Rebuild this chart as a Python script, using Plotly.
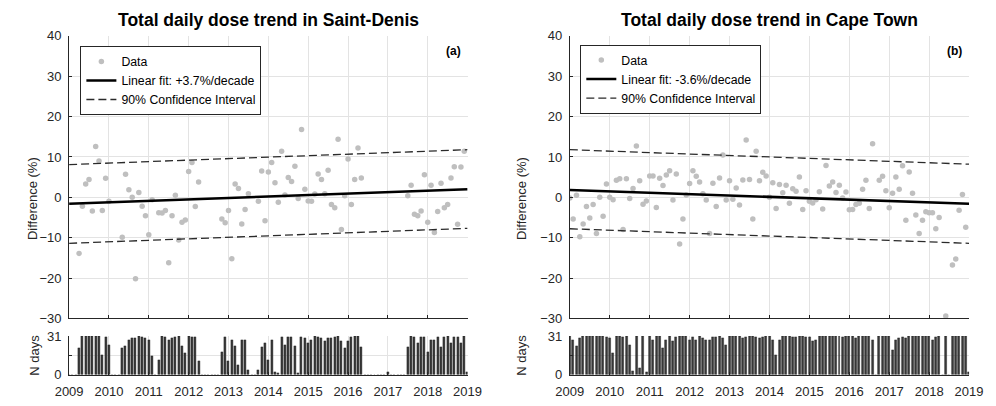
import plotly.graph_objects as go

# ---------------- data ----------------
start_year = 2009
years = list(range(2009, 2020))
n_months = 120

# Saint-Denis monthly differences (%), months 0..119 from Jan 2009 (None = no data)
sd_diff = ([None, None, None,
            -13.9, -2.2, 3.3, 4.4, -3.4, 12.6, 9.0, -3.3, 4.7, -1.0,
            None, None, None,
            -9.9, 5.7, 1.9, 0.0, -20.2, 1.2, -2.2, -4.6, -9.3, -0.6,
            None,
            -3.8, -3.9, -3.3, -16.2, -4.6, 0.5, -10.6, -6.2, -5.6, 6.4, 8.6, -2.3, 3.8,
            None, None, None, None, None, None,
            -5.4, -6.3, -3.3, -15.2, 3.3, 2.2, -6.6, -3.0, 0.9,
            None, None,
            -1.0, 6.5, -5.8, 6.3, 8.6, 3.6, -1.2, 11.4, 0.6, 4.9, 3.9, 7.7, -0.3, 16.8,
            2.0, -0.9, -1.0, 0.8, 5.8, 4.4, 0.9, 6.7, -1.8, -2.6, 14.4, -8.0, 0.4, 9.5,
            -1.8, 4.4, 12.2, 4.8]
           + [None] * 13
           + [0.4, 3.0, -4.2, -4.6, -3.4, 5.6, -6.2, 3.0, -8.7, -3.5, 3.5, -2.6, -1.8,
              4.8, 7.6, -6.7, 7.5, 11.4])

# Saint-Denis number of days per month, months 0..120
sd_days = [0, 0, 0,
           21, 31, 31, 31, 31, 31, 31, 16, 30, 24,
           0, 0, 0,
           21, 23, 28, 29, 29, 31, 30, 29, 28, 15,
           0,
           12, 31, 30, 28, 29, 30, 31, 23, 17, 31, 30, 30, 11,
           0, 0, 0, 0, 0, 0,
           18, 30, 11, 28, 23, 8, 28, 28, 4,
           0, 0,
           4, 22, 25, 12, 28, 2, 1, 30, 24, 30, 30, 23, 1, 30, 29, 25, 28, 31, 30, 29,
           27, 29, 29, 30, 31, 27, 21, 27, 30, 31, 31, 22,
           0, 0, 0, 0, 0, 0, 0,
           2,
           0, 0, 0, 0, 0,
           22, 31, 30, 25, 30, 30, 18, 28, 28, 30, 22, 30, 31, 25, 30, 30, 25, 31, 2]

# Cape Town monthly differences (%), months 0..119
ct_diff = [-0.2, -5.4, 0.5, -9.8, -6.6, -2.3, -5.1, -1.8, -9.0, 0.0, -4.7, 3.3,
           0.0, -0.6, 4.2, 4.6, -8.0, 4.6, -0.3, 2.2, 12.7, 4.1, -1.7, -0.9,
           5.3, 5.3, -2.5, 4.7, 2.9, 5.5, 6.6, -0.7, 5.8, -11.6, -5.4, 0.6,
           3.4, 6.6, 5.2, 3.8, 0.9, -0.7, -9.0, 3.5, -2.3, 4.8, 10.5, -0.7,
           4.1, -0.5, 2.3, -1.9, 4.3, 14.2, 4.4, -5.4, 11.4, 4.1, 6.2, 5.3,
           0.0, 3.6, -2.8, 3.2, 1.1, 3.0, -1.5, 2.1, 1.5, 5.0, -3.0, 1.6,
           -1.0, -1.4, -0.6, 1.4, -2.9, 7.9, 2.8, 3.8, 1.2, 3.0, -0.2, 1.3,
           -3.1, -3.0, -1.8, -1.5, 2.0, 4.2, -2.8, 13.3, None, 4.2, 5.2, 1.6,
           -2.6, 1.0, 5.0, 2.0, 7.8, -5.7, 6.3, 1.0, -4.4, -9.0, -5.7, -3.6,
           -3.8, -3.8, -7.8, -5.0, None, -29.4, None, -16.8, -15.3, -3.2, 0.7, -7.4]

# Cape Town number of days per month, months 0..120
ct_days = [31, 28, 23, 29, 31, 31, 31, 31, 31, 31, 31, 30,
           29, 17, 31, 31, 30, 31, 24, 3, 31, 5, 31, 2,
           31, 28, 31, 31, 21, 28, 31, 27, 30, 31, 31, 31,
           28, 30, 28, 31, 29, 28, 28, 30, 30, 31, 29, 24,
           31, 31, 31, 31, 29, 30, 31, 31, 30, 29, 30, 31,
           31, 28, 16, 28, 31, 31, 31, 30, 30, 31, 31, 30,
           30, 27, 28, 31, 31, 31, 31, 31, 31, 31, 30, 31,
           31, 31, 29, 31, 31, 31, 31, 28, 0, 31, 31, 31,
           31, 20, 28, 29, 30, 29, 31, 31, 31, 31, 31, 31,
           31, 28, 30, 31, 0, 31, 0, 31, 31, 31, 31, 31, 2]

# Linear fits and 90% confidence interval, values at start and end year
fit_years = [2009, 2019]
sd_fit = [-1.6, 2.0]
sd_ci_hi = [8.1, 11.8]
sd_ci_lo = [-11.4, -7.7]
ct_fit = [1.8, -1.6]
ct_ci_hi = [11.8, 8.2]
ct_ci_lo = [-7.8, -11.4]

sd_label = "Linear fit: +3.7%/decade"
ct_label = "Linear fit: -3.6%/decade"

# ---------------- figure ----------------
W, H = 996, 406
FONT = "Liberation Sans, Arial, sans-serif"
AX = "#262626"
GRID = "#e3e3e3"
DOT = "#bfbfbf"

x_pts = [start_year + m / 12 for m in range(n_months)]
x_bars = [start_year + m / 12 for m in range(len(sd_days))]

fig = go.Figure()


def add_panel(diff, days, fit, hi, lo, label, xa, ya, xb, yb, legend):
    fig.add_trace(go.Scatter(x=x_pts, y=diff, mode="markers", name="Data",
                             marker=dict(color=DOT, size=5.5),
                             xaxis=xa, yaxis=ya, legend=legend))
    fig.add_trace(go.Scatter(x=fit_years, y=fit, mode="lines", name=label,
                             line=dict(color="black", width=2.6),
                             xaxis=xa, yaxis=ya, legend=legend))
    fig.add_trace(go.Scatter(x=fit_years, y=hi, mode="lines", name="90% Confidence Interval",
                             line=dict(color="#2a2a2a", width=1.3, dash="8px,4px"),
                             xaxis=xa, yaxis=ya, legend=legend))
    fig.add_trace(go.Scatter(x=fit_years, y=lo, mode="lines", showlegend=False,
                             line=dict(color="#2a2a2a", width=1.3, dash="8px,4px"),
                             xaxis=xa, yaxis=ya))
    fig.add_trace(go.Bar(x=x_bars, y=days, width=0.6 / 12, showlegend=False,
                         marker=dict(color="#3a3a3a", line=dict(color="#111111", width=0.4)),
                         xaxis=xb, yaxis=yb))


add_panel(sd_diff, sd_days, sd_fit, sd_ci_hi, sd_ci_lo, sd_label, "x", "y", "x2", "y2", "legend")
add_panel(ct_diff, ct_days, ct_fit, ct_ci_hi, ct_ci_lo, ct_label, "x3", "y3", "x4", "y4", "legend2")

left_dom = [56.7 / W, 466.7 / W]
right_dom = [571.9 / W, 982.7 / W]
main_dom = [1 - 323.3 / H, 1 - 30.0 / H]
bar_dom = [1 - 381.7 / H, 1 - 341.7 / H]

tickfont = dict(family=FONT, size=13, color=AX)

def xax(dom, anchor, labels):
    return dict(domain=dom, anchor=anchor, range=[2009, 2019], tickvals=years,
                ticktext=[str(y) for y in years], showticklabels=labels,
                showgrid=True, gridcolor=GRID, gridwidth=1, zeroline=False,
                showline=True, linecolor=AX, linewidth=1, ticks="inside", ticklen=3,
                tickcolor=AX, tickfont=tickfont, ticklabelstandoff=5, fixedrange=True)

def yax_main(anchor):
    return dict(domain=main_dom, anchor=anchor, range=[-30, 40],
                tickvals=list(range(-30, 41, 10)), showgrid=True, gridcolor=GRID,
                zeroline=False, showline=True, linecolor=AX, linewidth=1,
                ticks="inside", ticklen=3, tickcolor=AX, tickfont=tickfont,
                ticklabelstandoff=4)

def yax_bar(anchor):
    return dict(domain=bar_dom, anchor=anchor, range=[0, 31],
                tickvals=[0, 15.5, 31], ticktext=["0", "", "31"], showgrid=True,
                gridcolor=GRID, zeroline=False, showline=True, linecolor=AX, linewidth=1,
                ticks="inside", ticklen=3, tickcolor=AX, tickfont=tickfont,
                ticklabelstandoff=4)

legend_common = dict(bgcolor="white", bordercolor=AX, borderwidth=1,
                     font=dict(family=FONT, size=12.3, color="black"),
                     xanchor="left", yanchor="top", tracegroupgap=0,
                     itemclick=False, itemdoubleclick=False)

fig.update_layout(
    width=W, height=H, margin=dict(l=0, r=0, t=0, b=0),
    paper_bgcolor="white", plot_bgcolor="white", bargap=0,
    font=dict(family=FONT, color=AX),
    xaxis=xax(left_dom, "y", False), yaxis=yax_main("x"),
    xaxis2=xax(left_dom, "y2", True), yaxis2=yax_bar("x2"),
    xaxis3=xax(right_dom, "y3", False), yaxis3=yax_main("x3"),
    xaxis4=xax(right_dom, "y4", True), yaxis4=yax_bar("x4"),
    legend=dict(x=68.3 / W, y=1 - 40.5 / H, **legend_common),
    legend2=dict(x=582.7 / W, y=1 - 39.0 / H, **legend_common),
    showlegend=True,
)

def px_ann(text, x, y, size, bold=False, angle=0, color="black"):
    fig.add_annotation(text=f"<b>{text}</b>" if bold else text, x=x / W, y=1 - y / H,
                       xref="paper", yref="paper", showarrow=False, textangle=angle,
                       font=dict(family=FONT, size=size, color=color),
                       xanchor="center", yanchor="middle")

px_ann("Total daily dose trend in Saint-Denis", 261.7, 13, 17.5, bold=True)
px_ann("Total daily dose trend in Cape Town", 777.3, 13, 17.5, bold=True)
px_ann("(a)", 452, 46, 12, bold=True)
px_ann("(b)", 968, 46, 12, bold=True)
px_ann("Difference (%)", 19, 199, 13, angle=-90, color=AX)
px_ann("Difference (%)", 522, 199, 13, angle=-90, color=AX)
px_ann("N days", 21, 361.7, 13, angle=-90, color=AX)
px_ann("N days", 522, 361.7, 13, angle=-90, color=AX)

fig.write_html("out.html", config={"displayModeBar": False},
               post_script="document.body.style.margin='0';document.body.style.overflow='hidden';")
